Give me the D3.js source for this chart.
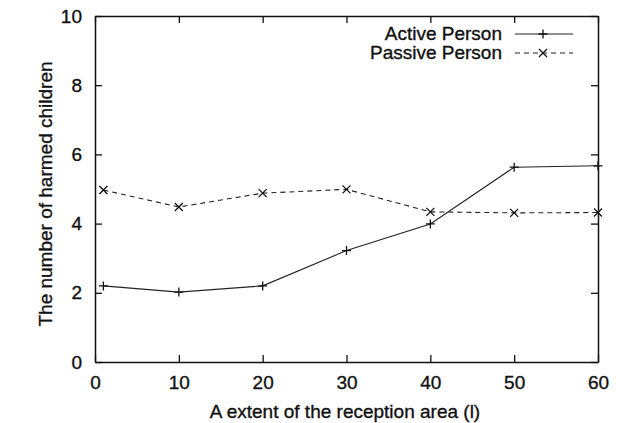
<!DOCTYPE html>
<html>
<head>
<meta charset="utf-8">
<script src="https://cdn.jsdelivr.net/npm/d3@7"></script>
<style>
  body { margin: 0; background: #fff; }
  svg { font-family: "Liberation Sans", Arial, sans-serif; }
  text { stroke: #111; stroke-width: 0.35px; }
  .tick text { font-size: 19px; fill: #111; }
</style>
</head>
<body>
<div id="chart-area"></div>
<script>
// Data
var xValues = [1, 10, 20, 30, 40, 50, 60];
var activePerson = [2.2, 2.02, 2.2, 3.22, 3.99, 5.63, 5.67];
var passivePerson = [4.97, 4.48, 4.88, 4.99, 4.34, 4.31, 4.32];
var xTicks = [0, 10, 20, 30, 40, 50, 60];
var yTicks = [0, 2, 4, 6, 8, 10];
var seriesNames = ["Active Person", "Passive Person"];

var margin = { left: 95, right: 26, top: 16, bottom: 61 },
    width = 624 - margin.left - margin.right,
    height = 423 - margin.top - margin.bottom;

var svg = d3.select("#chart-area").append("svg")
    .attr("width", 624)
    .attr("height", 423);

var g = svg.append("g")
    .attr("transform", "translate(" + margin.left + "," + margin.top + ")");

// Scales
var x = d3.scaleLinear().domain([0, 60]).range([0, width]);
var y = d3.scaleLinear().domain([0, 10]).range([height, 0]);

// Axes, ticks pointing inward
g.append("g")
    .attr("class", "x axis")
    .attr("transform", "translate(0," + height + ")")
    .call(d3.axisBottom(x).tickValues(xTicks).tickSizeInner(-7).tickSizeOuter(0).tickPadding(14));
g.append("g")
    .attr("class", "y axis")
    .call(d3.axisLeft(y).tickValues(yTicks).tickSizeInner(-7).tickSizeOuter(0).tickPadding(13));
// mirror ticks
g.append("g")
    .attr("class", "x2 axis")
    .call(d3.axisTop(x).tickValues(xTicks).tickSizeInner(-7).tickSizeOuter(0).tickFormat(""));
g.append("g")
    .attr("class", "y2 axis")
    .attr("transform", "translate(" + width + ",0)")
    .call(d3.axisRight(y).tickValues(yTicks).tickSizeInner(-7).tickSizeOuter(0).tickFormat(""));

g.selectAll(".domain").attr("stroke", "#111").attr("stroke-width", 1.5);
g.selectAll(".tick line").attr("stroke", "#111").attr("stroke-width", 1.3);

// Axis titles
svg.append("text")
    .attr("x", 345)
    .attr("y", 418)
    .attr("text-anchor", "middle")
    .style("font-size", "19px")
    .attr("fill", "#111")
    .text("A extent of the reception area (l)");

svg.append("text")
    .attr("transform", "translate(52,194) rotate(-90)")
    .attr("text-anchor", "middle")
    .style("font-size", "19px")
    .attr("fill", "#111")
    .text("The number of harmed children");

// Lines
var line = d3.line()
    .x(function(d) { return x(d[0]); })
    .y(function(d) { return y(d[1]); });

var activeData = xValues.map(function(v, i) { return [v, activePerson[i]]; });
var passiveData = xValues.map(function(v, i) { return [v, passivePerson[i]]; });

g.append("path")
    .attr("fill", "none")
    .attr("stroke", "#222")
    .attr("stroke-width", 1.1)
    .attr("d", line(activeData));

g.append("path")
    .attr("fill", "none")
    .attr("stroke", "#222")
    .attr("stroke-width", 1.1)
    .attr("stroke-dasharray", "5,4")
    .attr("d", line(passiveData));

function plus(sel, cx, cy) {
    sel.append("path")
        .attr("d", "M" + (cx - 4.5) + "," + cy + "H" + (cx + 4.5) + "M" + cx + "," + (cy - 4.5) + "V" + (cy + 4.5))
        .attr("stroke", "#111").attr("stroke-width", 1.3).attr("fill", "none");
}
function cross(sel, cx, cy) {
    sel.append("path")
        .attr("d", "M" + (cx - 4) + "," + (cy - 4) + "L" + (cx + 4) + "," + (cy + 4) +
                   "M" + (cx - 4) + "," + (cy + 4) + "L" + (cx + 4) + "," + (cy - 4))
        .attr("stroke", "#111").attr("stroke-width", 1.3).attr("fill", "none");
}

activeData.forEach(function(d) { plus(g, x(d[0]), y(d[1])); });
passiveData.forEach(function(d) { cross(g, x(d[0]), y(d[1])); });

// Legend
var legend = svg.append("g");
[0, 1].forEach(function(i) {
    var ly = 34 + i * 19;
    legend.append("text")
        .attr("x", 502)
        .attr("y", ly + 6)
        .attr("text-anchor", "end")
        .style("font-size", "19px")
        .attr("fill", "#111")
        .text(seriesNames[i]);
    legend.append("line")
        .attr("x1", 515).attr("x2", 573)
        .attr("y1", ly).attr("y2", ly)
        .attr("stroke", "#222").attr("stroke-width", 1.1)
        .attr("stroke-dasharray", i === 1 ? "5,4" : null);
    if (i === 0) plus(legend, 543, ly); else cross(legend, 543, ly);
});
</script>
</body>
</html>
